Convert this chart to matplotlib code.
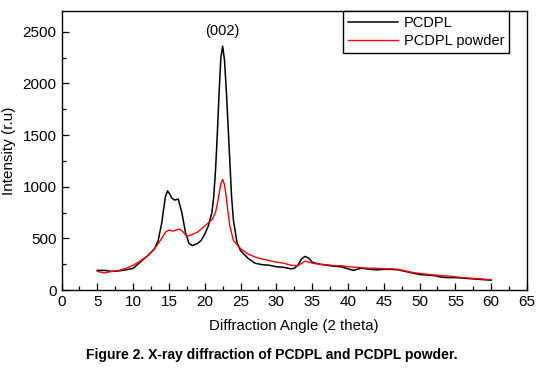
import matplotlib
matplotlib.use("Agg")
import matplotlib.pyplot as plt
from matplotlib.ticker import MultipleLocator

plt.rcParams['font.family'] = ['Liberation Sans', 'DejaVu Sans']

# PCDPL (black)
x_pcdpl = [5, 6, 7, 8, 9, 10, 11, 12, 13, 13.5, 14, 14.25, 14.5, 14.8, 15.1, 15.4, 15.8,
           16.3, 16.8, 17.3, 17.8, 18.3, 19, 19.5, 20, 20.5, 21, 21.25, 21.5, 21.75, 22,
           22.25, 22.5, 22.75, 23, 23.25, 23.5, 23.75, 24, 24.5,
           25, 26, 27, 28, 29, 30, 31, 32, 32.5, 33, 33.5, 34, 34.5, 35, 36, 37, 38, 39,
           40, 40.8, 41.5, 42, 43, 44, 45, 46, 47, 48, 49, 50, 51, 52, 53, 54, 55, 56,
           57, 58, 59, 60]
y_pcdpl = [190, 190, 180, 185, 195, 210, 270, 330, 400, 480, 650, 780, 900, 960, 930,
           890, 870, 880, 750, 560, 450, 430, 450, 480, 540, 620, 750, 900, 1150, 1500,
           1900, 2250, 2360, 2230, 1950, 1600, 1250, 900, 680, 460,
           380, 310, 260, 245, 240, 225, 220, 205, 210, 240, 300, 325,
           310, 270, 250, 240, 230, 225, 205, 190, 205, 210, 200, 195, 200, 200, 195,
           180, 165, 150, 145, 140, 125, 120, 120, 115, 110, 105, 100, 95]

# PCDPL powder (red)
x_powder = [5, 6, 7, 8, 9, 10, 11, 12, 13, 14, 14.5, 15, 15.5, 16, 16.5, 17, 17.5, 18,
            19, 20, 21, 21.5, 21.75, 22, 22.25, 22.5, 22.75, 23, 23.25, 23.5, 24, 25,
            26, 27, 28, 29, 30, 31, 32,
            33, 34, 34.5, 35, 36, 37, 38, 39, 40, 41, 42, 43, 44, 45, 46, 47, 48, 49,
            50, 52, 54, 56, 58, 60]
y_powder = [180, 165, 180, 190, 210, 240, 280, 330, 400, 500, 560, 580, 570, 580, 590,
            560, 520, 530, 560, 620, 680, 750, 830, 930, 1030, 1070, 1020, 900, 750,
            620, 480, 400, 350, 320,
            300, 285, 270, 260, 240, 235, 280, 270, 260, 250, 245, 235, 235, 225, 220,
            215, 210, 210, 205, 205, 200, 185, 170, 160, 145, 135, 120, 110, 100]

fig = plt.figure(figsize=(5.43, 3.72), dpi=100)
ax = fig.add_axes([0.1133, 0.2204, 0.8572, 0.75])

ax.plot(x_pcdpl, y_pcdpl, color='black', lw=1.1, label='PCDPL')
ax.plot(x_powder, y_powder, color='red', lw=1.0, label='PCDPL powder')

ax.set_xlim(0, 65)
ax.set_ylim(0, 2700)
ax.xaxis.set_major_locator(MultipleLocator(5))
ax.xaxis.set_minor_locator(MultipleLocator(2.5))
ax.yaxis.set_major_locator(MultipleLocator(500))
ax.yaxis.set_minor_locator(MultipleLocator(250))
ax.tick_params(which='both', direction='in', labelsize=11, top=False, right=False)
ax.tick_params(which='major', length=5, width=0.9)
ax.tick_params(which='minor', length=3, width=0.9)
for s in ax.spines.values():
    s.set_linewidth(1.0)

ax.set_xlabel('Diffraction Angle (2 theta)', fontsize=10.8, labelpad=7)
ax.set_ylabel('Intensity (r.u)', fontsize=11, labelpad=5)

ax.text(22.4, 2440, '(002)', ha='center', va='bottom', fontsize=10.5)

leg = ax.legend(loc='upper right', bbox_to_anchor=(0.962, 1.0), fontsize=10.5,
                frameon=True, fancybox=False, edgecolor='black', framealpha=1,
                handlelength=3.4, borderpad=0.35, labelspacing=0.25, handletextpad=0.4,
                borderaxespad=0)
leg.get_frame().set_linewidth(1.0)

fig.text(0.5, 0.045, 'Figure 2. X-ray diffraction of PCDPL and PCDPL powder.',
         ha='center', va='center', fontsize=10, fontweight='bold',
         family=['Liberation Sans', 'DejaVu Sans'])

fig.savefig('out.png', dpi=100)
